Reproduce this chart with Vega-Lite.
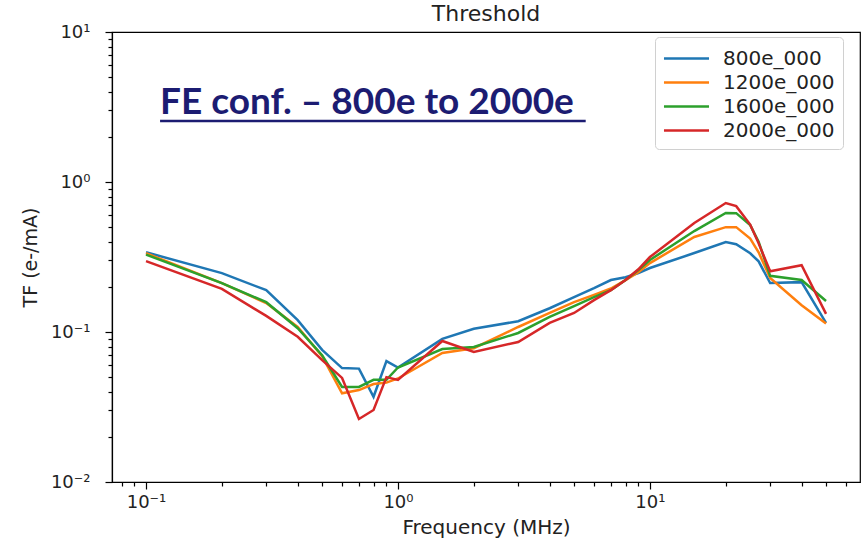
{
  "$schema": "https://vega.github.io/schema/vega-lite/v6.json",
  "width": 748,
  "height": 450,
  "autosize": {"type": "none"},
  "padding": {"left": 112, "top": 32, "right": 6, "bottom": 59},
  "background": "white",
  "title": {"text": "Threshold", "font": "DejaVu Sans", "fontSize": 22, "fontWeight": "normal", "color": "#222", "offset": -3, "anchor": "middle"},
  "datasets": {
    "tf": [
      {"f": 0.1, "s": "800e_000", "v": 0.340}, {"f": 0.2, "s": "800e_000", "v": 0.247}, {"f": 0.3, "s": "800e_000", "v": 0.190}, {"f": 0.4, "s": "800e_000", "v": 0.120}, {"f": 0.5, "s": "800e_000", "v": 0.076}, {"f": 0.6, "s": "800e_000", "v": 0.0575}, {"f": 0.7, "s": "800e_000", "v": 0.057}, {"f": 0.8, "s": "800e_000", "v": 0.037}, {"f": 0.9, "s": "800e_000", "v": 0.064}, {"f": 1, "s": "800e_000", "v": 0.058}, {"f": 1.5, "s": "800e_000", "v": 0.090}, {"f": 2, "s": "800e_000", "v": 0.105}, {"f": 3, "s": "800e_000", "v": 0.118}, {"f": 4, "s": "800e_000", "v": 0.144}, {"f": 5, "s": "800e_000", "v": 0.171}, {"f": 6, "s": "800e_000", "v": 0.196}, {"f": 7, "s": "800e_000", "v": 0.222}, {"f": 8, "s": "800e_000", "v": 0.232}, {"f": 9, "s": "800e_000", "v": 0.247}, {"f": 10, "s": "800e_000", "v": 0.267}, {"f": 15, "s": "800e_000", "v": 0.336}, {"f": 20, "s": "800e_000", "v": 0.398}, {"f": 22, "s": "800e_000", "v": 0.385}, {"f": 25, "s": "800e_000", "v": 0.335}, {"f": 27, "s": "800e_000", "v": 0.296}, {"f": 30, "s": "800e_000", "v": 0.212}, {"f": 40, "s": "800e_000", "v": 0.215}, {"f": 50, "s": "800e_000", "v": 0.115},
      {"f": 0.1, "s": "1200e_000", "v": 0.335}, {"f": 0.2, "s": "1200e_000", "v": 0.212}, {"f": 0.3, "s": "1200e_000", "v": 0.156}, {"f": 0.4, "s": "1200e_000", "v": 0.108}, {"f": 0.5, "s": "1200e_000", "v": 0.069}, {"f": 0.6, "s": "1200e_000", "v": 0.039}, {"f": 0.7, "s": "1200e_000", "v": 0.041}, {"f": 0.8, "s": "1200e_000", "v": 0.045}, {"f": 0.9, "s": "1200e_000", "v": 0.046}, {"f": 1, "s": "1200e_000", "v": 0.049}, {"f": 1.5, "s": "1200e_000", "v": 0.0725}, {"f": 2, "s": "1200e_000", "v": 0.078}, {"f": 3, "s": "1200e_000", "v": 0.108}, {"f": 4, "s": "1200e_000", "v": 0.134}, {"f": 5, "s": "1200e_000", "v": 0.158}, {"f": 6, "s": "1200e_000", "v": 0.177}, {"f": 7, "s": "1200e_000", "v": 0.195}, {"f": 8, "s": "1200e_000", "v": 0.222}, {"f": 9, "s": "1200e_000", "v": 0.250}, {"f": 10, "s": "1200e_000", "v": 0.288}, {"f": 15, "s": "1200e_000", "v": 0.430}, {"f": 20, "s": "1200e_000", "v": 0.500}, {"f": 22, "s": "1200e_000", "v": 0.500}, {"f": 25, "s": "1200e_000", "v": 0.420}, {"f": 27, "s": "1200e_000", "v": 0.340}, {"f": 30, "s": "1200e_000", "v": 0.229}, {"f": 40, "s": "1200e_000", "v": 0.151}, {"f": 50, "s": "1200e_000", "v": 0.114},
      {"f": 0.1, "s": "1600e_000", "v": 0.328}, {"f": 0.2, "s": "1600e_000", "v": 0.212}, {"f": 0.3, "s": "1600e_000", "v": 0.158}, {"f": 0.4, "s": "1600e_000", "v": 0.106}, {"f": 0.5, "s": "1600e_000", "v": 0.070}, {"f": 0.6, "s": "1600e_000", "v": 0.043}, {"f": 0.7, "s": "1600e_000", "v": 0.043}, {"f": 0.8, "s": "1600e_000", "v": 0.048}, {"f": 0.9, "s": "1600e_000", "v": 0.048}, {"f": 1, "s": "1600e_000", "v": 0.058}, {"f": 1.5, "s": "1600e_000", "v": 0.077}, {"f": 2, "s": "1600e_000", "v": 0.0795}, {"f": 3, "s": "1600e_000", "v": 0.0985}, {"f": 4, "s": "1600e_000", "v": 0.126}, {"f": 5, "s": "1600e_000", "v": 0.149}, {"f": 6, "s": "1600e_000", "v": 0.171}, {"f": 7, "s": "1600e_000", "v": 0.190}, {"f": 8, "s": "1600e_000", "v": 0.222}, {"f": 9, "s": "1600e_000", "v": 0.259}, {"f": 10, "s": "1600e_000", "v": 0.302}, {"f": 15, "s": "1600e_000", "v": 0.471}, {"f": 20, "s": "1600e_000", "v": 0.621}, {"f": 22, "s": "1600e_000", "v": 0.620}, {"f": 25, "s": "1600e_000", "v": 0.516}, {"f": 27, "s": "1600e_000", "v": 0.400}, {"f": 30, "s": "1600e_000", "v": 0.237}, {"f": 40, "s": "1600e_000", "v": 0.222}, {"f": 50, "s": "1600e_000", "v": 0.161},
      {"f": 0.1, "s": "2000e_000", "v": 0.297}, {"f": 0.2, "s": "2000e_000", "v": 0.194}, {"f": 0.3, "s": "2000e_000", "v": 0.128}, {"f": 0.4, "s": "2000e_000", "v": 0.093}, {"f": 0.5, "s": "2000e_000", "v": 0.065}, {"f": 0.6, "s": "2000e_000", "v": 0.0494}, {"f": 0.7, "s": "2000e_000", "v": 0.0263}, {"f": 0.8, "s": "2000e_000", "v": 0.0302}, {"f": 0.9, "s": "2000e_000", "v": 0.050}, {"f": 1, "s": "2000e_000", "v": 0.0479}, {"f": 1.5, "s": "2000e_000", "v": 0.0871}, {"f": 2, "s": "2000e_000", "v": 0.0736}, {"f": 3, "s": "2000e_000", "v": 0.0858}, {"f": 4, "s": "2000e_000", "v": 0.115}, {"f": 5, "s": "2000e_000", "v": 0.134}, {"f": 6, "s": "2000e_000", "v": 0.163}, {"f": 7, "s": "2000e_000", "v": 0.190}, {"f": 8, "s": "2000e_000", "v": 0.222}, {"f": 9, "s": "2000e_000", "v": 0.262}, {"f": 10, "s": "2000e_000", "v": 0.316}, {"f": 15, "s": "2000e_000", "v": 0.533}, {"f": 20, "s": "2000e_000", "v": 0.724}, {"f": 22, "s": "2000e_000", "v": 0.690}, {"f": 25, "s": "2000e_000", "v": 0.520}, {"f": 27, "s": "2000e_000", "v": 0.390}, {"f": 30, "s": "2000e_000", "v": 0.254}, {"f": 40, "s": "2000e_000", "v": 0.279}, {"f": 50, "s": "2000e_000", "v": 0.132}
    ],
    "note": [{"label": "FE conf. – 800e to 2000e", "x": 0.1137, "y": 2.84, "x2": 5.56, "yu": 2.55}]
  },
  "layer": [
    {
      "data": {"name": "tf"},
      "mark": {"type": "line", "strokeWidth": 2.5, "clip": true},
      "encoding": {
        "x": {
          "field": "f", "type": "quantitative",
          "scale": {"type": "log", "domain": [0.07328, 68.2], "nice": false, "zero": false},
          "axis": {
            "title": "Frequency (MHz)",
            "titleFontSize": 20,
            "values": [0.08, 0.09, 0.1, 0.2, 0.3, 0.4, 0.5, 0.6, 0.7, 0.8, 0.9, 1, 2, 3, 4, 5, 6, 7, 8, 9, 10, 20, 30, 40, 50, 60],
            "labelExpr": "datum.value == 0.1 ? '10⁻¹' : datum.value == 1 ? '10⁰' : datum.value == 10 ? '10¹' : ''",
            "tickSize": {"condition": {"test": "datum.value == 0.1 || datum.value == 1 || datum.value == 10", "value": 7}, "value": 4},
            "labelPadding": 4,
            "titlePadding": 6
          }
        },
        "y": {
          "field": "v", "type": "quantitative",
          "scale": {"type": "log", "domain": [0.01, 10], "nice": false, "zero": false},
          "axis": {
            "title": "TF (e-/mA)",
            "titleFontSize": 19,
            "values": [0.01, 0.02, 0.03, 0.04, 0.05, 0.06, 0.07, 0.08, 0.09, 0.1, 0.2, 0.3, 0.4, 0.5, 0.6, 0.7, 0.8, 0.9, 1, 2, 3, 4, 5, 6, 7, 8, 9, 10],
            "labelExpr": "datum.value == 0.01 ? '10⁻²' : datum.value == 0.1 ? '10⁻¹' : datum.value == 1 ? '10⁰' : datum.value == 10 ? '10¹' : ''",
            "tickSize": {"condition": {"test": "datum.value == 0.01 || datum.value == 0.1 || datum.value == 1 || datum.value == 10", "value": 7}, "value": 4},
            "labelPadding": 15,
            "titlePadding": 10
          }
        },
        "color": {
          "field": "s", "type": "nominal",
          "scale": {"domain": ["800e_000", "1200e_000", "1600e_000", "2000e_000"], "range": ["#1f77b4", "#ff7f0e", "#2ca02c", "#d62728"]},
          "legend": {
            "title": null, "orient": "none", "legendX": 543, "legendY": 5,
            "symbolType": "M-1.84,0L1.84,0", "symbolSize": 600, "symbolStrokeWidth": 2.5, "symbolOffset": 10,
            "labelFontSize": 20, "labelFont": "DejaVu Sans", "labelColor": "#222",
            "fillColor": "white", "strokeColor": "#d0d0d0", "cornerRadius": 4, "padding": 8, "rowPadding": 0, "labelOffset": 23
          }
        }
      }
    },
    {
      "data": {"name": "note"},
      "mark": {"type": "text", "align": "left", "baseline": "alphabetic", "font": "Lato", "fontWeight": "bold", "fontSize": 37, "color": "#1c1c72"},
      "encoding": {
        "x": {"field": "x", "type": "quantitative"},
        "y": {"field": "y", "type": "quantitative"},
        "text": {"field": "label"}
      }
    },
    {
      "data": {"name": "note"},
      "mark": {"type": "rule", "strokeWidth": 2.5, "color": "#1c1c72"},
      "encoding": {
        "x": {"field": "x", "type": "quantitative"},
        "x2": {"field": "x2"},
        "y": {"field": "yu", "type": "quantitative"}
      }
    }
  ],
  "config": {
    "view": {"stroke": "black", "strokeWidth": 1.2},
    "axis": {
      "grid": false, "domainColor": "black", "domainWidth": 1.2, "tickColor": "black", "tickWidth": 1.2,
      "labelFont": "DejaVu Sans", "labelFontSize": 18, "labelColor": "#222", "labelFlush": false, "labelOverlap": false,
      "titleFont": "DejaVu Sans", "titleFontWeight": "normal", "titleColor": "#222"
    }
  }
}
